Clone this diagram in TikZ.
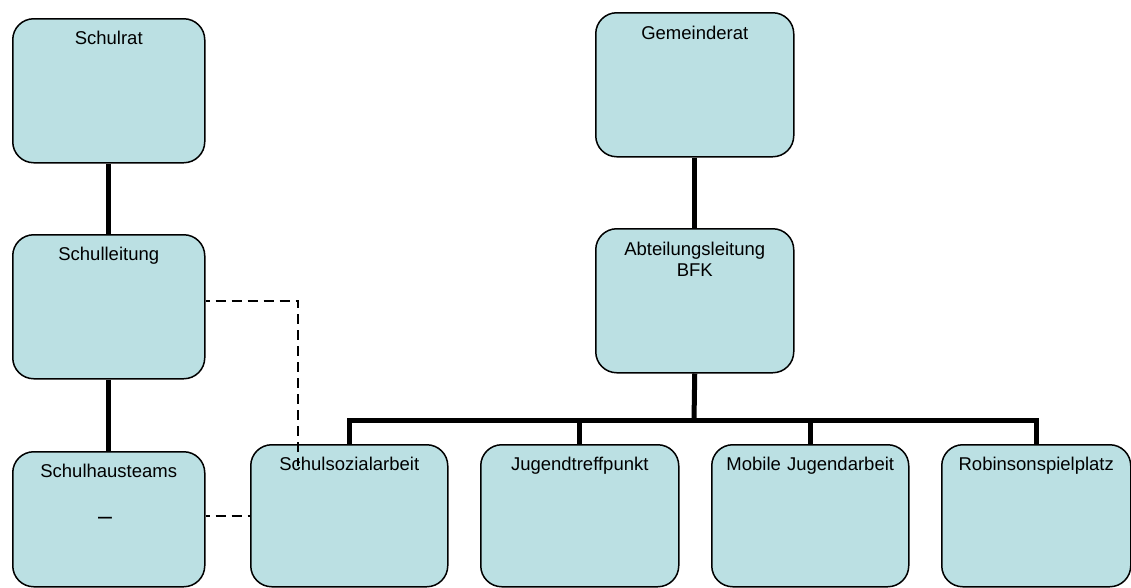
\documentclass[tikz,border=0pt]{standalone}
\usepackage{fontspec}
\setmainfont{Liberation Sans}
\usetikzlibrary{calc}
\definecolor{boxfill}{RGB}{187,224,227}
\tikzset{
  orgbox/.style={draw=black, line width=1.5pt, fill=boxfill, rounded corners=21pt,
    anchor=north west, inner sep=0pt, align=center,
    font=\fontsize{18.5}{21}\selectfont, text height=25.5pt},
  conn/.style={line width=5pt, line join=miter, draw=black},
  dashline/.style={line width=1.5pt, draw=black, dash pattern=on 10pt off 6pt, dash phase=6pt},
}
\begin{document}
\begin{tikzpicture}[x=1pt, y=-1pt]
\useasboundingbox (0,0) rectangle (1131,587);
% boxes
\node[orgbox, text width=192pt, text depth=118.5pt] (schulrat) at (12,18) {Schulrat};
\node[orgbox, text width=192pt, text depth=118.5pt] (schulleitung) at (12,234) {Schulleitung};
\node[orgbox, text width=192pt, text depth=109.5pt, text height=25.5pt] (schulhausteams) at (12,451) {Schulhausteams};
\node[font=\fontsize{25}{25}\selectfont, inner sep=0pt] (dash) at (105,521) {–};
\node[orgbox, text width=198pt, text depth=117.5pt, text height=26.5pt] (gemeinderat) at (595,12) {Gemeinderat};
\node[orgbox, text width=198pt, text depth=117.5pt, text height=26.5pt] (abteilung) at (595,228) {Abteilungsleitung\\BFK};
\node[orgbox, text width=197pt, text depth=116.5pt] (sozial) at (250,444) {Schulsozialarbeit};
\node[orgbox, text width=198pt, text depth=116.5pt] (jugend) at (480,444) {Jugendtreffpunkt};
\node[orgbox, text width=197pt, text depth=116.5pt] (mobile) at (711,444) {Mobile Jugendarbeit};
\node[orgbox, text width=189pt, text depth=116.5pt] (robinson) at (941,444) {Robinsonspielplatz};
% solid connectors
\coordinate (bus) at (694,420);
\draw[conn] (schulrat.south) -- (schulleitung.north);
\draw[conn] (schulleitung.south) -- (schulhausteams.north);
\draw[conn] (gemeinderat.south) -- (abteilung.north);
\draw[conn] (abteilung.south) -- (bus);
\draw[conn] (sozial.north) |- (bus);
\draw[conn] (jugend.north) -- (jugend.north |- bus);
\draw[conn] (mobile.north) -- (mobile.north |- bus);
\draw[conn] (robinson.north) |- (bus);
% dashed connectors
\coordinate (dashend) at (298,466);
\draw[dashline] ([yshift=6pt]schulleitung.east) -| (dashend);
\draw[dashline] (schulhausteams.east |- sozial.west) -- (sozial.west);
\end{tikzpicture}
\end{document}
